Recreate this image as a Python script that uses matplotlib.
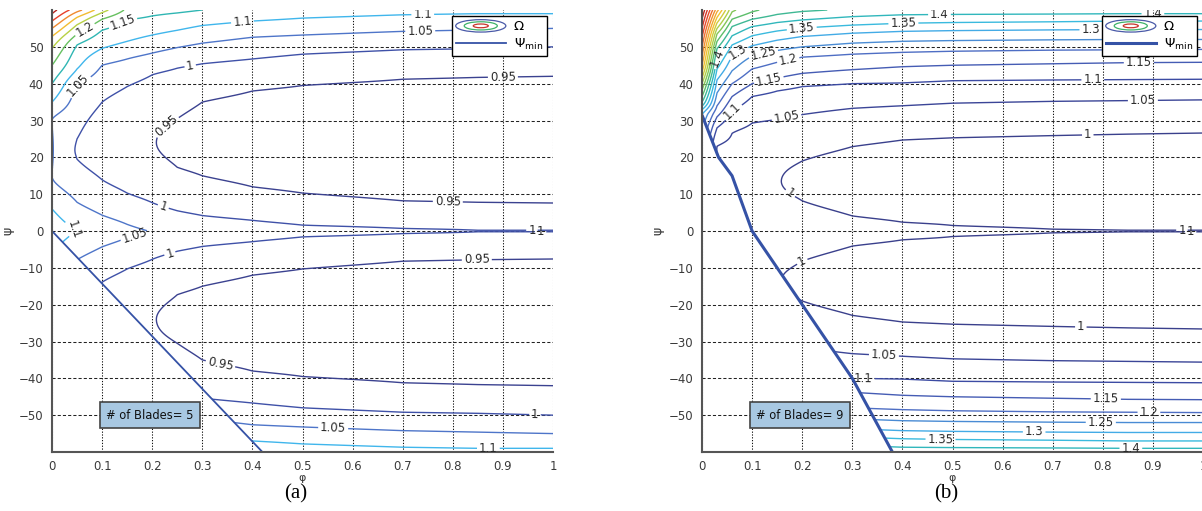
import numpy as np
import matplotlib
matplotlib.use("Agg")
import matplotlib.pyplot as plt
from matplotlib.colors import LinearSegmentedColormap
from matplotlib.patches import Ellipse, Polygon
from matplotlib.lines import Line2D
from matplotlib.legend_handler import HandlerBase

plt.rcParams['font.family'] = ['DejaVu Sans']

# ---------------- panel (a): 5 blades ----------------
blades_a = 5
levels_a = [0.95, 1.0, 1.05, 1.1, 1.15, 1.2, 1.25, 1.3, 1.35, 1.4, 1.45]
phi_a = [0.0, 0.05, 0.1, 0.15, 0.2, 0.25, 0.3, 0.4, 0.5, 0.7, 0.85, 1.0]
# |psi| positions and Omega values (symmetric in psi)
s_knots_a = [
    [0, 6, 15, 22, 30, 35, 40, 45, 49.6, 52.8, 55, 57, 59, 60],
    [0, 7.8, 19.5, 22, 25, 39.5, 44, 50.5, 53.5, 56, 58, 59.5, 60],
    [0, 4.3, 13.9, 24, 35, 45, 49.6, 54.5, 57.5, 59.3, 60],
    [0, 1.8, 10.3, 24, 39.2, 46.7, 51.5, 57.3, 60],
    [0, 7.7, 24, 42.4, 48.3, 53.2, 58.4, 60],
    [0, 5.5, 17.3, 24, 30.5, 44.2, 49.8, 54.5, 59.2, 60],
    [0, 4.2, 15, 25, 35, 45.4, 51, 55.8, 60],
    [0, 2.9, 12, 25, 38, 46.7, 52.6, 57, 60],
    [0, 1.6, 10.3, 25, 39.5, 48, 53.2, 57.8, 60],
    [0, 0.7, 8.2, 25, 41.2, 49.2, 54.2, 58.7, 60],
    [0, 0.2, 7.8, 25, 41.7, 49.5, 54.6, 59, 60],
    [0, 0.2, 7.6, 25, 42, 50, 55, 59, 60],
]
om_knots_a = [
    [1.13, 1.1, 1.05, 1.053, 1.05, 1.1, 1.15, 1.2, 1.25, 1.3, 1.35, 1.4, 1.45, 1.47],
    [1.099, 1.05, 1.0, 0.995, 1.0, 1.05, 1.1, 1.15, 1.2, 1.25, 1.3, 1.35, 1.37],
    [1.08, 1.05, 1.0, 0.975, 1.0, 1.05, 1.1, 1.15, 1.2, 1.25, 1.27],
    [1.06, 1.05, 1.0, 0.96, 1.0, 1.05, 1.1, 1.15, 1.19],
    [1.048, 1.0, 0.952, 1.0, 1.05, 1.1, 1.15, 1.165],
    [1.044, 1.0, 0.95, 0.94, 0.95, 1.0, 1.05, 1.1, 1.15, 1.16],
    [1.04, 1.0, 0.95, 0.935, 0.95, 1.0, 1.05, 1.1, 1.15],
    [1.035, 1.0, 0.95, 0.93, 0.95, 1.0, 1.05, 1.1, 1.14],
    [1.03, 1.0, 0.95, 0.928, 0.95, 1.0, 1.05, 1.1, 1.125],
    [1.015, 1.0, 0.95, 0.925, 0.95, 1.0, 1.05, 1.1, 1.115],
    [1.003, 1.0, 0.95, 0.925, 0.95, 1.0, 1.05, 1.1, 1.112],
    [1.003, 1.0, 0.95, 0.925, 0.95, 1.0, 1.05, 1.1, 1.112],
]
psi_min_phi_a = [0.0, 0.42]
psi_min_a = [0.0, -60.0]
clabels_a = {
    1.2: [(0.066, 54.6)],
    1.15: [(0.14, 57.0)],
    1.1: [(0.38, 56.9), (0.74, 58.7), (0.046, 0.7), (0.871, -59.0)],
    1.05: [(0.052, 39.7), (0.735, 54.0), (0.166, -1.5), (0.561, -54.3)],
    1.0: [(0.276, 44.7), (0.222, 6.6), (0.235, -6.0), (0.964, -50.0),
          (0.958, 0.5), (0.975, -0.5)],
    0.95: [(0.229, 28.4), (0.9, 41.7), (0.79, 7.6), (0.848, -8.3), (0.335, -36.9)],
}

# ---------------- panel (b): 9 blades ----------------
blades_b = 9
levels_b = [1.0, 1.05, 1.1, 1.15, 1.2, 1.25, 1.3, 1.35, 1.4, 1.45, 1.5, 1.55,
            1.6, 1.65, 1.7, 1.75, 1.8, 1.85, 1.9, 1.95, 2.0]
phi_b = [0.0, 0.03, 0.06, 0.1, 0.15, 0.2, 0.3, 0.4, 0.5, 0.7, 0.85, 1.0]
s_knots_b = [
    [0, 31.5, 35, 40, 45, 50, 55, 60],
    [0, 21, 23, 28, 31, 34, 37.5, 41, 44, 47, 49.5, 51.5, 53.5, 55, 56.5, 58, 59.5, 60],
    [0, 13.5, 26.5, 32.5, 36.5, 40, 43.5, 47.5, 50.5, 53, 55.5, 57.5, 59.5, 60],
    [0, 13.5, 29.3, 36.5, 40, 44, 47.5, 50.3, 53, 55.5, 57.5, 59.5, 60],
    [0, 13.5, 30.3, 38, 41.5, 45.8, 49, 51.8, 54.3, 56.6, 58.8, 60],
    [0, 8.2, 13.5, 19, 31.6, 39.2, 42.8, 47.2, 50, 52.8, 55.1, 57.3, 59.6, 60],
    [0, 4.1, 13.5, 22.9, 33.3, 40, 43.8, 48, 51, 53.7, 55.9, 58.2, 60],
    [0, 2.4, 13.5, 24.7, 34, 40.2, 44.6, 48.5, 51.5, 54.2, 56.4, 58.7, 60],
    [0, 1.5, 13.5, 25.3, 34.7, 40.8, 45, 48.8, 51.7, 54.4, 56.6, 58.8, 60],
    [0, 0.5, 13.5, 25.9, 35.2, 41, 45.4, 49.1, 51.9, 54.6, 56.8, 58.9, 60],
    [0, 0.2, 13.5, 26.3, 35.4, 41.1, 45.7, 49.2, 52, 54.7, 57, 59, 60],
    [0, 0.2, 13.5, 26.6, 35.6, 41.2, 45.8, 49.3, 52, 54.7, 57, 59, 60],
]
om_knots_b = [
    [1.1, 1.3, 1.45, 1.6, 1.75, 1.85, 1.95, 2.05],
    [1.06, 1.045, 1.05, 1.1, 1.15, 1.2, 1.25, 1.3, 1.35, 1.4, 1.45, 1.5, 1.55, 1.6, 1.65, 1.7, 1.75, 1.77],
    [1.05, 1.03, 1.05, 1.1, 1.15, 1.2, 1.25, 1.3, 1.35, 1.4, 1.45, 1.5, 1.55, 1.56],
    [1.04, 1.012, 1.05, 1.1, 1.15, 1.2, 1.25, 1.3, 1.35, 1.4, 1.45, 1.5, 1.51],
    [1.035, 1.002, 1.05, 1.1, 1.15, 1.2, 1.25, 1.3, 1.35, 1.4, 1.45, 1.475],
    [1.03, 1.0, 0.99, 1.0, 1.05, 1.1, 1.15, 1.2, 1.25, 1.3, 1.35, 1.4, 1.45, 1.46],
    [1.025, 1.0, 0.98, 1.0, 1.05, 1.1, 1.15, 1.2, 1.25, 1.3, 1.35, 1.4, 1.44],
    [1.02, 1.0, 0.975, 1.0, 1.05, 1.1, 1.15, 1.2, 1.25, 1.3, 1.35, 1.4, 1.43],
    [1.01, 1.0, 0.972, 1.0, 1.05, 1.1, 1.15, 1.2, 1.25, 1.3, 1.35, 1.4, 1.43],
    [1.005, 1.0, 0.97, 1.0, 1.05, 1.1, 1.15, 1.2, 1.25, 1.3, 1.35, 1.4, 1.43],
    [1.003, 1.0, 0.968, 1.0, 1.05, 1.1, 1.15, 1.2, 1.25, 1.3, 1.35, 1.4, 1.43],
    [1.003, 1.0, 0.967, 1.0, 1.05, 1.1, 1.15, 1.2, 1.25, 1.3, 1.35, 1.4, 1.43],
]
psi_min_phi_b = [0.0, 0.033, 0.06, 0.1, 0.2, 0.3, 0.38]
psi_min_b = [31.5, 20.0, 15.0, 0.0, -20.0, -40.0, -60.0]
clabels_b = {
    1.4: [(0.022, 47.4), (0.474, 58.7), (0.9, 59.0), (0.856, -59.5)],
    1.35: [(0.199, 55.1), (0.402, 56.0), (0.476, -57.3)],
    1.3: [(0.069, 49.2), (0.776, 54.6), (0.663, -55.0)],
    1.25: [(0.122, 48.3), (0.796, -52.3)],
    1.2: [(0.172, 46.5), (0.892, -49.4)],
    1.15: [(0.132, 41.9), (0.872, 45.6), (0.806, -45.9)],
    1.1: [(0.059, 32.9), (0.78, 41.0), (0.322, -39.6)],
    1.05: [(0.169, 30.6), (0.88, 35.4), (0.363, -34.1)],
    1.0: [(0.176, 10.2), (0.2, -8.3), (0.77, 26.1), (0.756, -26.9),
          (0.958, 0.5), (0.975, -0.5)],
}

xticks = [0, 0.1, 0.2, 0.3, 0.4, 0.5, 0.6, 0.7, 0.8, 0.9, 1.0]
xticklabels = ['0', '0.1', '0.2', '0.3', '0.4', '0.5', '0.6', '0.7', '0.8', '0.9', '1']
yticks = [-50, -40, -30, -20, -10, 0, 10, 20, 30, 40, 50]

# jet-like map, toned down the way the printed figure looks
line_cmap = LinearSegmentedColormap.from_list('faded_jet', [
    (0.0, '#3a3d86'), (0.12, '#3c4aa2'), (0.22, '#4f70c6'), (0.33, '#3fbcef'),
    (0.42, '#2db5ad'), (0.5, '#62bf62'), (0.6, '#bcd244'), (0.68, '#f2c232'),
    (0.78, '#f08a30'), (0.88, '#e63c2a'), (1.0, '#a01818')])


def pchip(xk, yk, x):
    # monotone cubic through the read-off knots
    xk = np.asarray(xk, float)
    yk = np.asarray(yk, float)
    h = np.diff(xk)
    d = np.diff(yk) / h
    m = np.zeros_like(yk)
    m[0], m[-1] = d[0], d[-1]
    for i in range(1, len(xk) - 1):
        if d[i - 1] * d[i] > 0:
            w1 = 2 * h[i] + h[i - 1]
            w2 = h[i] + 2 * h[i - 1]
            m[i] = (w1 + w2) / (w1 / d[i - 1] + w2 / d[i])
    i = np.clip(np.searchsorted(xk, x, side='right') - 1, 0, len(h) - 1)
    t = (x - xk[i]) / h[i]
    return ((2 * t**3 - 3 * t**2 + 1) * yk[i] + (t**3 - 2 * t**2 + t) * h[i] * m[i]
            + (-2 * t**3 + 3 * t**2) * yk[i + 1] + (t**3 - t**2) * h[i] * m[i + 1])


def omega_field(phi_cols, s_knots, om_knots):
    s = np.linspace(0, 60, 481)
    psi = np.concatenate([-s[:0:-1], s])
    cols = [pchip(sk, ok, np.abs(psi)) for sk, ok in zip(s_knots, om_knots)]
    return np.asarray(phi_cols), psi, np.column_stack(cols)


class ContourIcon(HandlerBase):
    def create_artists(self, legend, orig_handle, xdescent, ydescent,
                       width, height, fontsize, trans):
        cx = 0.5 * width - xdescent
        cy = 0.5 * height - ydescent
        arts = []
        for k, col in [(1.0, '#4a5aa8'), (0.66, '#3fb26a'), (0.3, '#c8342c')]:
            arts.append(Ellipse((cx, cy), width * k, height * 1.05 * k, fill=False,
                                edgecolor=col, lw=0.9, transform=trans))
        return arts


def draw_panel(ax, phi_cols, s_knots, om_knots, levels, vmin, vmax,
               psi_min_phi, psi_min, psi_lw, clabels, blades):
    phi, psi, om = omega_field(phi_cols, s_knots, om_knots)
    # only the region above psi_min is valid
    verts = [(-0.1, 70), (-0.1, psi_min[0])] + list(zip(psi_min_phi, psi_min)) + \
            [(psi_min_phi[-1], -70), (1.1, -70), (1.1, 70)]
    clip = Polygon(verts, closed=True, transform=ax.transData)
    for lv in levels:
        col = line_cmap((lv - vmin) / (vmax - vmin))
        cs = ax.contour(phi, psi, om, levels=[lv], colors=[col], linewidths=1.0)
        if lv in clabels:
            ax.clabel(cs, manual=clabels[lv], inline=True, inline_spacing=2,
                      fontsize=8.5, colors='#2a2a2a', fmt=lambda v: f'{v:g}')
        cs.set_clip_path(clip)

    psi_color = '#3552a6'
    ax.plot(psi_min_phi, psi_min, color=psi_color, lw=psi_lw, solid_capstyle='butt')

    ax.set_xlim(0, 1)
    ax.set_ylim(-60, 60)
    ax.set_xticks(xticks)
    ax.set_xticklabels(xticklabels)
    ax.set_yticks(yticks)
    ax.tick_params(labelsize=8.5, labelcolor='#3a3a3a', length=0, pad=6)
    ax.xaxis.grid(True, color='#111111', lw=0.75, linestyle=(0, (1.2, 1.5)))
    ax.yaxis.grid(True, color='#222222', lw=0.75, linestyle=(0, (3, 2)))
    for side in ['top', 'right']:
        ax.spines[side].set_visible(False)
    for side in ['left', 'bottom']:
        ax.spines[side].set_color('#555555')
        ax.spines[side].set_linewidth(1.5)
    ax.set_xlabel('φ', fontsize=8, labelpad=0, color='#333333')
    ax.set_ylabel('ψ', fontsize=9, labelpad=3, color='#333333')

    ax.text(0.195, -50, f'# of Blades= {blades}', ha='center', va='center',
            fontsize=8.3, color='#111111',
            bbox=dict(boxstyle='square,pad=0.55', fc='#a8c8e2', ec='#444444', lw=1.2))

    icon = Line2D([], [])
    psi_line = Line2D([], [], color=psi_color, lw=psi_lw)
    leg = ax.legend([icon, psi_line], ['Ω', r'$\Psi_{\rm min}$'],
                    handler_map={icon: ContourIcon()},
                    loc='upper right', bbox_to_anchor=(1 - 6 / 501, 1 - 6 / 442),
                    fancybox=False, edgecolor='black', framealpha=1, fontsize=9.5,
                    handlelength=3.8, handleheight=1.0, handletextpad=0.6,
                    labelspacing=0.3, borderpad=0.3, borderaxespad=0)
    leg.get_frame().set_linewidth(1.0)
    leg.set_zorder(10)


fig = plt.figure(figsize=(12.02, 5.11), dpi=100)
ax_a = fig.add_axes([52 / 1202, 59 / 511, 501 / 1202, 442 / 511])
ax_b = fig.add_axes([702 / 1202, 59 / 511, 501 / 1202, 442 / 511])

draw_panel(ax_a, phi_a, s_knots_a, om_knots_a, levels_a, 0.925, 1.47,
           psi_min_phi_a, psi_min_a, 1.3, clabels_a, blades_a)
draw_panel(ax_b, phi_b, s_knots_b, om_knots_b, levels_b, 0.967, 2.05,
           psi_min_phi_b, psi_min_b, 2.2, clabels_b, blades_b)

fig.text(296 / 1202, 1 - 494 / 511, '(a)', ha='center', va='center',
         family='Liberation Serif', fontsize=15)
fig.text(946 / 1202, 1 - 494 / 511, '(b)', ha='center', va='center',
         family='Liberation Serif', fontsize=15)

fig.savefig('out.png', dpi=100)
